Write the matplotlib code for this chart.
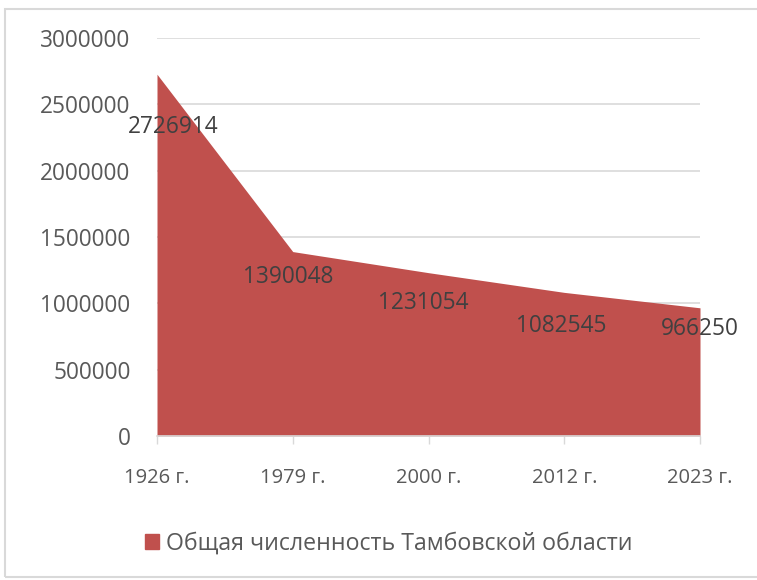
import matplotlib
matplotlib.use("Agg")
import matplotlib.pyplot as plt
from matplotlib.patches import Rectangle

categories = ["1926 г.", "1979 г.", "2000 г.", "2012 г.", "2023 г."]
values = [2726914, 1390048, 1231054, 1082545, 966250]
yticks = [0, 500000, 1000000, 1500000, 2000000, 2500000, 3000000]
series_name = "Общая численность Тамбовской области"

plt.rcParams['font.family'] = ['Open Sans', 'DejaVu Sans']

W, H = 757, 580
fig = plt.figure(figsize=(W / 100, H / 100), dpi=100)

def fx(px):
    return px / W

def fy(py):
    return 1 - py / H

ax = fig.add_axes([fx(157), fy(436), fx(700) - fx(157), fy(38) - fy(436)])

fill = '#C0504D'
grid = '#D9D9D9'
x = list(range(len(categories)))
ax.fill_between(x, values, 0, color=fill, linewidth=0, zorder=2, label=series_name)

ax.set_xlim(0, len(categories) - 1)
ax.set_ylim(0, 3000000)
ax.set_yticks(yticks)
ax.set_yticklabels([str(v) for v in yticks], fontsize=16.3, color='#595959')
ax.set_xticks(x)
ax.set_xticklabels(categories, fontsize=14.5, color='#595959')
ax.tick_params(axis='y', length=0, pad=19)
ax.tick_params(axis='x', length=6, color=grid, width=1, pad=17)
ax.grid(axis='y', color=grid, linewidth=1.2, zorder=0)
ax.set_axisbelow(True)
for s in ['top', 'right', 'left']:
    ax.spines[s].set_visible(False)
ax.spines['bottom'].set_color(grid)
ax.spines['bottom'].set_linewidth(1.2)

offsets = [(12, -38), (-3, -18), (-4, -22), (-2, -24), (0, -15)]
for i, v in enumerate(values):
    ax.annotate(str(v), (i, v), xytext=offsets[i], textcoords='offset points',
                ha='center', va='center', fontsize=16.3, color='#404040',
                annotation_clip=False, zorder=5)

leg = fig.legend(handles=[Rectangle((0, 0), 1, 1, color=fill)], labels=[series_name],
                 loc='center left', bbox_to_anchor=(fx(145), fy(544)), frameon=False,
                 fontsize=16.7, handlelength=0.6, handleheight=0.6, handletextpad=0.3,
                 borderaxespad=0, borderpad=0)
for t in leg.get_texts():
    t.set_color('#595959')

fig.patches.append(Rectangle((fx(5), fy(577)), fx(760) - fx(5), fy(9) - fy(577),
                             transform=fig.transFigure, fill=False, edgecolor=grid,
                             linewidth=1.5))

fig.savefig("out.png", dpi=100)
